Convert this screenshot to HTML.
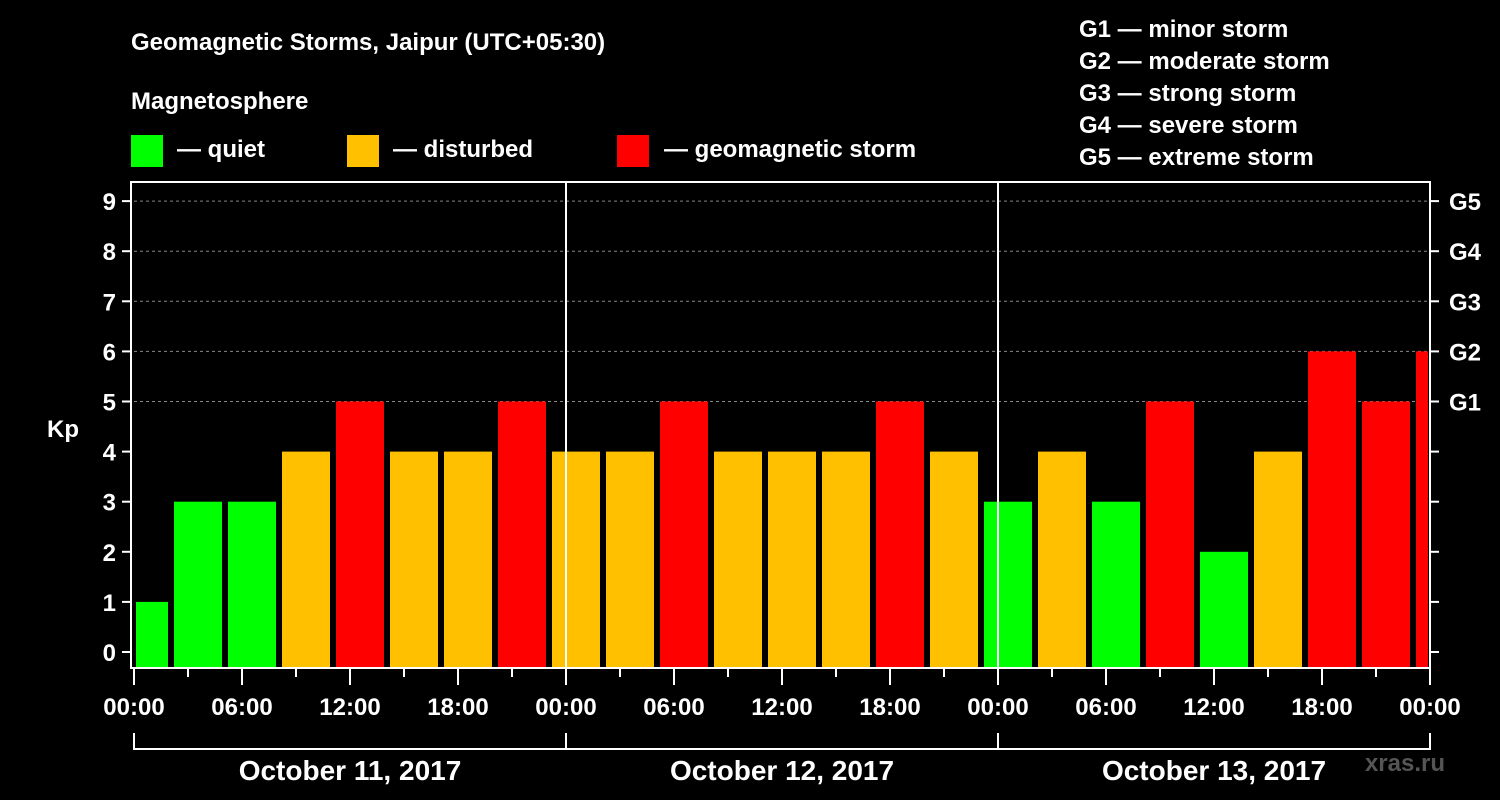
<!DOCTYPE html>
<html><head><meta charset="utf-8"><style>
html,body{margin:0;padding:0;background:#000;}
svg{display:block;font-family:"Liberation Sans",sans-serif;font-weight:bold;}
</style></head><body>
<svg id="chart" width="1500" height="800" viewBox="0 0 1500 800">
<rect width="1500" height="800" fill="#000"/>
<text x="131" y="50" fill="#fff" font-size="24">Geomagnetic Storms, Jaipur (UTC+05:30)</text>
<text x="131" y="109" fill="#fff" font-size="24">Magnetosphere</text>
<g><rect x="131" y="135" width="32" height="32" fill="#00ff00"/><text x="177" y="157" fill="#fff" font-size="24">— quiet</text></g>
<g><rect x="347" y="135" width="32" height="32" fill="#ffc000"/><text x="393" y="157" fill="#fff" font-size="24">— disturbed</text></g>
<g><rect x="617" y="135" width="32" height="32" fill="#ff0000"/><text x="664" y="157" fill="#fff" font-size="24">— geomagnetic storm</text></g>
<g fill="#fff" font-size="24">
<text x="1079" y="37">G1 — minor storm</text>
<text x="1079" y="69">G2 — moderate storm</text>
<text x="1079" y="101">G3 — strong storm</text>
<text x="1079" y="133">G4 — severe storm</text>
<text x="1079" y="165">G5 — extreme storm</text>
</g>
<text x="63" y="437" fill="#fff" font-size="24" text-anchor="middle">Kp</text>
<text x="1445" y="771" fill="#555" font-size="24" text-anchor="end">xras.ru</text>
<g id="grid"></g><g id="bars"></g><g id="axes"></g>
</svg>
<script>
const kpValues=[1,3,3,4,5,4,4,5,4,4,5,4,4,4,5,4,3,4,3,5,2,4,6,5,6];
const yTicks=[0,1,2,3,4,5,6,7,8,9];
const gLabels=["G1","G2","G3","G4","G5"];
const xLabels=["00:00","06:00","12:00","18:00","00:00","06:00","12:00","18:00","00:00","06:00","12:00","18:00","00:00"];
const dayLabels=["October 11, 2017","October 12, 2017","October 13, 2017"];
const NS="http://www.w3.org/2000/svg";
const X0=134,X1=1430,HOURS=72,Y0=652,UNIT=50.1,TOP=182,BOT=668;
const xs=h=>X0+(X1-X0)*h/HOURS;
const ys=v=>Y0-v*UNIT;
function mk(p,t,a){const e=document.createElementNS(NS,t);for(const k in a)e.setAttribute(k,a[k]);p.appendChild(e);return e;}
const grid=document.getElementById('grid'),bars=document.getElementById('bars'),axes=document.getElementById('axes');
yTicks.forEach(v=>{if(v>=5){const l=mk(grid,'line',{x1:X0,x2:X1,y1:ys(v),y2:ys(v),stroke:'#888','stroke-dasharray':'3,3','stroke-width':1});

}});
kpValues.forEach((v,i)=>{
 const h0=(i-1)*3+2.222, h1=h0+2.667;
 const a=Math.max(xs(h0),X0+2), b=Math.min(xs(h1),X1-2);
 const c=v>=5?'#ff0000':(v>=4?'#ffc000':'#00ff00');
 const r=mk(bars,'rect',{x:a,y:ys(v),width:b-a,height:BOT-1-ys(v),fill:c});
 
 
});
const W='#fff';
mk(axes,'rect',{x:131,y:TOP,width:X1-131,height:BOT-TOP,fill:'none',stroke:W,'stroke-width':2});
[1,2].forEach(d=>mk(axes,'line',{x1:xs(24*d),x2:xs(24*d),y1:TOP,y2:BOT,stroke:W,'stroke-width':2}));
yTicks.forEach(v=>{
 mk(axes,'line',{x1:122,x2:131,y1:ys(v),y2:ys(v),stroke:W,'stroke-width':2});
 mk(axes,'line',{x1:X1,x2:X1+9,y1:ys(v),y2:ys(v),stroke:W,'stroke-width':2});
 const t=mk(axes,'text',{x:116,y:ys(v)+9,fill:W,'font-size':24,'text-anchor':'end'});t.textContent=v;
 
 
});
gLabels.forEach((g,i)=>{const t=mk(axes,'text',{x:1449,y:ys(5+i)+9,fill:W,'font-size':24});t.textContent=g;
 
 });
for(let h=0;h<=72;h+=3){const x=xs(h);mk(axes,'line',{x1:x,x2:x,y1:BOT,y2:h%6===0?685:677,stroke:W,'stroke-width':2});}
xLabels.forEach((s,i)=>{const t=mk(axes,'text',{x:xs(i*6),y:715,fill:W,'font-size':24,'text-anchor':'middle'});t.textContent=s;
 
 });
mk(axes,'line',{x1:X0,x2:X1,y1:749,y2:749,stroke:W,'stroke-width':2});
[0,1,2,3].forEach(d=>mk(axes,'line',{x1:xs(24*d),x2:xs(24*d),y1:733,y2:750,stroke:W,'stroke-width':2}));
dayLabels.forEach((s,i)=>{const t=mk(axes,'text',{x:xs(24*i+12),y:780,fill:W,'font-size':28,'text-anchor':'middle'});t.textContent=s;
 
 });
</script>
</body></html>
